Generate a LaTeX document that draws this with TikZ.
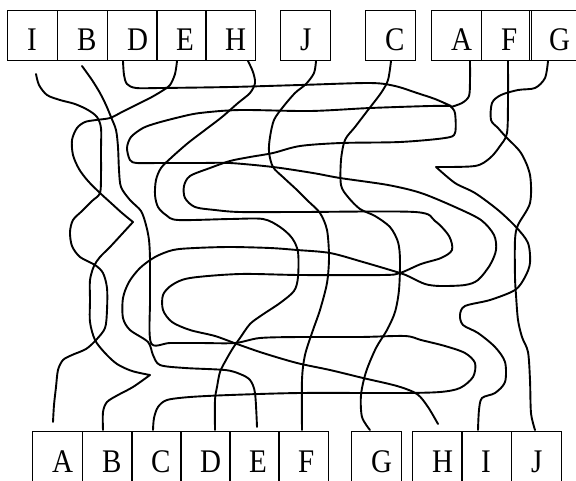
\documentclass[tikz,border=0pt]{standalone}
\usepackage{fontspec}
\setmainfont[FakeStretch=0.88]{Liberation Serif}

\begin{document}
\begin{tikzpicture}[x=1pt,y=-1pt,
    box/.style={draw,line width=0.8pt,anchor=north west,minimum width=49.5pt,minimum height=50pt,inner sep=0pt},
    letter/.style={anchor=base west,inner sep=0pt,font=\fontsize{33}{33}\selectfont},
    wire/.style={line width=1.9pt,line join=round,line cap=round}]
    \useasboundingbox (0,0) rectangle (576,480);
    \foreach \name/\x in {I/7,B/57,D/107,E/156,H/205,J/280,C/365,A/431,F/481,G/529} {
      \node[box] (top\name) at (\x,10) {};
      \node[letter] (toplbl\name) at (\x+20,50) {\name};
    }
    \foreach \name/\x in {A/32,B/82,C/131,D/180,E/229,F/278,G/351,H/412,I/461,J/511} {
      \node[box] (bot\name) at (\x,431) {};
      \node[letter] (botlbl\name) at (\x+20,472) {\name};
    }
    % left knot
    \draw[wire] plot[smooth,tension=0.5] coordinates {(36,74) (39,85) (47,95) (60,100) (75,104) (88,110) (97,117) (101,128) (101,150) (101,175) (100,193) (92,201) (82,211) (73,220) (70,232) (72,246) (80,257) (95,265) (103,273) (107,288) (107,310) (105,328) (96,340) (86,349) (72,355) (63,360) (58,370) (56,387) (54,405) (53,422)};
    \draw[wire] plot[smooth,tension=0.5] coordinates {(177,61) (175,74) (170,85) (162,91) (150,98) (136,105) (122,112) (110,118) (96,120) (85,122) (77,128) (72,140) (73,155) (79,169) (88,181) (100,193) (111,203) (122,213) (133,222)}
      -- plot[smooth,tension=0.5] coordinates {(133,222) (122,234) (110,247) (100,257) (94,266) (90,280) (90,300) (90,322) (95,340) (105,353) (117,364) (132,371) (150,375)}
      -- plot[smooth,tension=0.5] coordinates {(150,375) (133,387) (118,395) (107,402) (103,412) (103,430)};
    \draw[wire] plot[smooth,tension=0.5] coordinates {(82,66) (92,80) (100,93) (106,105) (111,117) (116,130) (118,147) (119,170) (121,187) (130,200) (141,211) (146,225) (149,240) (150,260) (150,300) (151,343) (170,343) (200,343) (235,343) (260,338) (300,337) (360,337) (405,336) (421,340) (445,346) (465,353) (475,363) (473,377) (460,388) (440,392) (400,393) (300,393) (230,395) (190,397) (167,400) (158,407) (154,418) (153,430)};
    % long loops
    \draw[wire] plot[smooth,tension=0.5] coordinates {(123,61) (124,75) (127,84) (136,88) (160,88) (230,87) (300,85) (370,83) (395,86) (417,93) (435,99) (451,106)}
      -- plot[smooth,tension=0.5] coordinates {(451,106) (430,106) (370,108) (310,111) (240,110) (200,113) (180,117) (157,123) (143,128) (131,137) (127,148) (130,160) (137,163) (160,163) (200,163) (230,163) (273,167) (313,173) (340,178) (388,185) (421,193) (455,207) (481,220) (494,235) (496,250) (490,265) (478,280) (465,285) (440,286) (425,284) (410,277) (400,273) (363,262) (330,253) (297,250) (270,248) (230,247) (195,248) (173,250) (155,257) (140,268) (129,282) (123,298) (123,318) (130,330) (148,342) (153,355) (160,365) (185,368) (225,370) (240,374) (250,380) (255,393) (257,427)};
    \draw[wire] plot[smooth,tension=0.5] coordinates {(248,61) (253,72) (255,83) (250,93) (238,103) (222,117) (205,130) (188,143) (172,157) (161,168) (156,180) (155,195) (158,207) (166,215) (178,220) (230,219) (263,219) (280,227) (292,238) (298,252) (298,277) (294,291) (280,303) (262,315) (250,324) (240,338) (233,348) (226,360) (220,372) (217,387) (215,400) (215,430)};
    \draw[wire] plot[smooth,tension=0.5] coordinates {(316,61) (314,73) (306,84) (295,93) (283,107) (274,120) (270,137) (269,152) (273,167) (284,178) (297,190) (308,201) (320,213) (327,230) (329,257) (327,283) (320,310) (313,330) (305,355) (302,380) (302,430)};
    \draw[wire] plot[smooth,tension=0.5] coordinates {(391,61) (388,80) (381,93) (368,110) (355,127) (345,140) (341,160) (341,185) (348,197) (360,209) (375,216) (390,227) (398,242) (400,260) (399,290) (395,312) (387,330) (376,348) (366,372) (361,395) (362,417) (370,430)};
    \draw[wire] plot[smooth,tension=0.5] coordinates {(470,61) (470,80) (469,96) (462,103) (451,107)}
      -- plot[smooth,tension=0.5] coordinates {(451,107) (455,113) (455,133) (445,138) (400,142) (341,143) (300,146) (273,153) (250,157) (230,161) (210,168) (190,176) (184,186) (185,198) (195,207) (215,210) (240,212) (300,212) (415,212) (435,221) (449,236) (452,250) (441,258) (421,264) (400,273) (383,275) (300,275) (240,274) (190,278) (172,285) (163,295) (163,310) (172,322) (190,330) (215,336) (237,344) (263,353) (297,363) (330,370) (363,378) (397,386) (417,394) (428,407) (438,424)};
    % right knot
    \draw[wire] plot[smooth,tension=0.5] coordinates {(508,61) (508,100) (507,133) (500,146) (490,158) (475,166) (436,167)}
      -- plot[smooth,tension=0.5] coordinates {(436,167) (455,183) (475,193) (498,210) (516,227) (528,243) (530,263) (525,277) (515,290) (490,300) (465,306) (460,315) (463,325) (478,333) (495,347) (505,362) (505,382) (495,393) (482,398) (479,410) (478,430)};
    \draw[wire] plot[smooth,tension=0.5] coordinates {(548,61) (545,78) (535,88) (518,90) (501,95) (492,103) (491,120) (498,128) (506,137) (521,153) (530,175) (530,203) (518,225) (515,240) (515,277) (516,295) (518,320) (522,337) (528,352) (530,380) (531,413) (535,430)};
\end{tikzpicture}
\end{document}
